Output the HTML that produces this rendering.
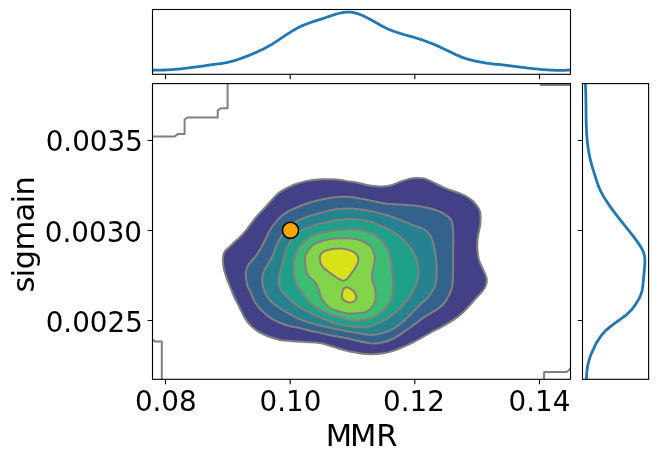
<!DOCTYPE html>
<html><head><meta charset="utf-8"><title>plot</title><style>html,body{margin:0;padding:0;background:#fff;overflow:hidden}svg{display:block}</style></head><body>
<svg width="657" height="461" viewBox="0 0 657 461">
<rect width="657" height="461" fill="#ffffff"/>
<defs><clipPath id="cm"><rect x="152.50" y="83.60" width="418.00" height="295.70"/></clipPath>
<clipPath id="ct"><rect x="152.50" y="9.50" width="418.00" height="64.80"/></clipPath>
<clipPath id="cr"><rect x="582.50" y="83.60" width="66.10" height="295.70"/></clipPath></defs>
<g clip-path="url(#cm)">
<path d="M222.9,260.8 C222.8,259.0 222.9,258.1 223.1,256.9 C223.2,255.7 223.4,254.7 223.8,253.7 C224.2,252.7 224.6,251.7 225.4,250.7 C226.2,249.7 227.5,248.6 228.7,247.5 C229.9,246.4 231.3,245.2 232.6,243.9 C233.9,242.7 235.5,240.9 236.5,240.0 C237.5,239.1 237.4,239.4 238.5,238.4 C239.6,237.4 241.6,235.4 243.0,233.9 C244.4,232.4 245.6,230.9 246.9,229.3 C248.2,227.7 249.5,225.8 250.8,224.1 C252.1,222.4 253.5,220.4 254.7,218.9 C255.9,217.4 256.4,216.8 258.0,215.0 C259.6,213.2 262.2,210.6 264.6,208.0 C267.0,205.4 269.8,202.1 272.2,199.5 C274.6,196.9 276.9,194.4 279.0,192.7 C281.1,191.0 283.2,190.2 285.0,189.2 C286.8,188.2 288.3,187.3 290.0,186.5 C291.7,185.7 292.6,185.0 295.0,184.2 C297.4,183.4 301.1,182.3 304.1,181.6 C307.2,180.9 310.2,180.5 313.3,180.1 C316.4,179.7 319.4,179.4 322.4,179.3 C325.4,179.2 328.4,179.2 331.5,179.3 C334.6,179.4 337.6,179.7 340.7,180.1 C343.8,180.5 347.4,181.2 349.8,181.5 C352.2,181.8 352.6,181.7 355.0,182.2 C357.4,182.7 361.1,183.7 364.1,184.3 C367.2,185.0 370.2,185.7 373.3,186.1 C376.4,186.5 379.4,186.7 382.4,186.5 C385.4,186.3 388.4,186.0 391.5,185.2 C394.6,184.4 397.6,182.6 400.7,181.5 C403.8,180.4 407.4,179.2 409.8,178.6 C412.2,178.0 412.6,178.0 415.0,178.0 C417.4,178.0 421.1,177.7 424.1,178.4 C427.2,179.1 430.2,180.9 433.3,182.3 C436.4,183.7 439.4,185.5 442.4,186.9 C445.4,188.3 448.4,189.4 451.5,190.5 C454.6,191.6 457.6,192.3 460.7,193.7 C463.8,195.0 467.2,196.8 469.8,198.6 C472.4,200.4 474.6,202.7 476.3,204.8 C478.0,206.9 479.3,209.0 480.0,211.3 C480.7,213.6 480.6,216.3 480.6,218.8 C480.6,221.3 480.4,223.9 480.0,226.4 C479.6,228.9 478.8,231.7 478.4,234.0 C478.0,236.3 477.7,237.5 477.5,240.0 C477.3,242.5 477.2,245.8 477.4,249.1 C477.6,252.4 477.9,256.1 478.9,259.7 C479.9,263.2 482.2,267.3 483.5,270.4 C484.8,273.4 486.0,275.7 486.5,278.0 C487.0,280.3 486.8,282.0 486.3,284.0 C485.8,286.0 485.1,287.7 483.5,290.0 C481.9,292.3 478.9,294.9 476.5,297.6 C474.1,300.3 471.4,303.6 468.9,306.3 C466.4,309.0 464.0,311.5 461.3,313.9 C458.6,316.2 455.9,318.2 452.6,320.4 C449.3,322.6 445.3,324.9 441.7,326.9 C438.1,328.9 434.5,330.5 430.9,332.5 C427.3,334.5 422.8,337.1 420.0,338.7 C417.2,340.3 416.7,340.6 413.9,342.0 C411.1,343.4 406.9,345.3 403.3,346.8 C399.8,348.3 396.2,350.0 392.6,351.1 C389.1,352.2 385.6,353.1 382.0,353.6 C378.4,354.1 374.9,354.3 371.3,354.3 C367.8,354.3 364.2,354.1 360.7,353.6 C357.1,353.1 352.8,352.1 350.0,351.5 C347.2,350.9 346.7,350.8 343.9,350.0 C341.1,349.2 336.9,347.9 333.3,346.8 C329.8,345.7 326.2,344.4 322.6,343.6 C319.1,342.9 315.6,342.6 312.0,342.3 C308.4,342.0 304.9,342.0 301.3,341.8 C297.8,341.6 294.2,341.3 290.7,341.0 C287.1,340.7 283.8,340.7 280.0,339.9 C276.2,339.1 271.8,337.7 268.0,336.2 C264.2,334.7 260.2,332.8 257.1,330.8 C254.0,328.8 251.7,326.7 249.5,324.3 C247.3,321.9 245.9,319.8 244.1,316.7 C242.3,313.6 240.4,309.2 238.7,305.8 C237.0,302.4 235.2,299.1 233.8,296.0 C232.4,292.9 231.6,290.6 230.2,287.1 C228.8,283.6 226.7,278.2 225.6,274.9 C224.5,271.6 224.0,269.9 223.6,267.5 C223.2,265.1 223.0,262.6 222.9,260.8Z" fill="#424086"/>
<path d="M245.7,275.0 C245.6,272.2 246.2,270.0 246.9,268.0 C247.6,266.0 248.5,264.7 249.8,262.9 C251.2,261.1 253.3,259.2 255.0,257.0 C256.7,254.8 258.4,252.5 260.1,249.6 C261.8,246.7 263.8,242.6 265.4,239.5 C266.9,236.4 268.0,233.5 269.4,231.1 C270.8,228.7 271.9,227.1 273.5,225.0 C275.1,222.9 276.9,220.5 278.8,218.6 C280.7,216.7 282.4,215.0 285.0,213.3 C287.6,211.6 290.3,210.2 294.1,208.5 C297.9,206.8 304.3,204.4 307.8,203.2 C311.3,202.0 312.4,201.8 315.0,201.1 C317.6,200.4 320.8,199.5 323.7,198.9 C326.6,198.3 329.5,197.8 332.4,197.4 C335.3,197.0 338.1,196.8 341.0,196.7 C343.9,196.6 347.4,196.8 349.7,196.9 C352.0,197.0 351.6,196.8 355.0,197.4 C358.4,198.0 365.1,199.4 370.2,200.4 C375.3,201.4 380.3,202.7 385.4,203.4 C390.5,204.1 395.6,204.2 400.6,204.6 C405.7,205.0 411.6,205.3 415.7,205.7 C419.8,206.1 421.9,206.6 425.0,207.2 C428.1,207.8 431.1,208.5 434.1,209.5 C437.1,210.5 440.7,211.9 443.2,213.3 C445.7,214.7 447.8,216.2 449.3,217.8 C450.8,219.4 451.7,220.9 452.3,223.1 C452.9,225.2 452.9,227.9 453.1,230.7 C453.3,233.5 453.4,236.4 453.4,240.0 C453.4,243.6 453.2,247.0 453.1,252.1 C453.1,257.2 453.2,264.8 453.1,270.4 C453.0,276.0 452.9,281.6 452.3,285.6 C451.7,289.7 450.7,291.7 449.3,294.7 C447.9,297.7 446.1,301.0 444.0,303.5 C441.9,306.0 440.2,307.3 437.0,309.5 C433.8,311.7 428.6,314.3 425.0,316.6 C421.4,318.9 419.0,321.1 415.7,323.5 C412.4,325.9 408.6,328.7 405.1,331.1 C401.6,333.5 398.3,336.1 394.5,338.0 C390.7,339.9 386.4,341.6 382.3,342.5 C378.2,343.4 374.8,343.7 370.2,343.3 C365.6,342.9 359.1,341.1 355.0,340.2 C350.9,339.3 349.8,338.8 345.7,338.0 C341.6,337.2 335.7,336.2 330.6,335.2 C325.6,334.2 320.5,333.1 315.4,331.9 C310.3,330.7 304.3,329.1 300.0,328.1 C295.7,327.1 292.3,326.8 289.5,326.1 C286.7,325.4 285.1,324.8 283.0,324.0 C280.9,323.2 278.6,322.3 276.7,321.4 C274.8,320.5 273.1,319.6 271.3,318.4 C269.5,317.2 267.6,315.9 265.8,314.4 C264.0,312.9 262.2,311.2 260.4,309.2 C258.6,307.2 256.3,304.2 255.0,302.2 C253.7,300.2 253.4,298.8 252.6,297.0 C251.8,295.2 251.1,293.5 250.2,291.5 C249.3,289.5 247.9,287.8 247.2,285.0 C246.4,282.2 245.8,277.8 245.7,275.0Z" fill="#33638d"/>
<path d="M262.6,285.0 C262.1,282.2 262.0,279.5 262.4,276.9 C262.8,274.3 263.6,272.0 264.7,269.6 C265.8,267.2 267.9,264.6 269.2,262.3 C270.5,260.0 271.4,258.7 272.6,256.0 C273.8,253.3 275.1,248.9 276.2,246.3 C277.3,243.7 278.2,242.1 279.2,240.2 C280.2,238.3 280.7,237.2 282.3,234.9 C283.9,232.6 286.3,228.9 289.0,226.5 C291.7,224.1 295.6,222.0 298.7,220.3 C301.8,218.7 304.8,217.6 307.5,216.6 C310.2,215.6 312.3,215.3 315.0,214.5 C317.7,213.7 320.8,212.7 323.7,211.9 C326.6,211.1 329.5,210.4 332.4,209.9 C335.3,209.4 338.1,208.9 341.0,208.7 C343.9,208.4 347.4,208.4 349.7,208.4 C352.0,208.4 351.6,208.5 355.0,208.9 C358.4,209.3 365.1,210.0 370.2,211.0 C375.3,212.0 380.3,213.3 385.4,214.8 C390.5,216.3 395.6,218.2 400.6,220.1 C405.7,222.0 411.6,224.5 415.7,226.2 C419.8,227.8 422.7,228.6 425.0,230.0 C427.3,231.4 428.4,232.8 429.6,234.5 C430.8,236.2 431.3,237.3 432.2,240.0 C433.1,242.7 434.2,246.8 434.9,250.6 C435.6,254.4 436.1,258.2 436.4,262.8 C436.6,267.4 436.7,274.0 436.4,278.0 C436.1,282.0 435.6,284.1 434.5,287.0 C433.4,289.9 431.2,293.3 429.6,295.5 C428.0,297.7 426.3,298.9 425.0,300.2 C423.7,301.4 423.4,301.5 421.8,303.0 C420.2,304.5 418.5,306.3 415.7,309.1 C412.9,311.9 408.6,316.5 405.1,319.7 C401.6,322.9 398.3,325.8 394.5,328.1 C390.7,330.4 386.4,332.3 382.3,333.4 C378.2,334.5 374.8,335.0 370.2,334.9 C365.6,334.8 359.6,333.4 355.0,332.6 C350.4,331.9 347.3,331.3 342.7,330.4 C338.1,329.5 332.6,328.4 327.5,327.3 C322.4,326.2 317.4,325.0 312.3,323.5 C307.2,322.0 301.7,320.2 297.1,318.2 C292.6,316.2 288.6,313.6 285.0,311.5 C281.4,309.4 278.2,307.2 275.7,305.3 C273.1,303.4 271.4,302.0 269.7,300.0 C268.0,298.0 266.8,295.9 265.6,293.4 C264.4,290.9 263.1,287.8 262.6,285.0Z" fill="#26828e"/>
<path d="M278.8,278.7 C278.9,276.4 279.5,274.1 280.2,271.4 C280.9,268.7 282.2,264.9 282.9,262.3 C283.6,259.7 284.0,257.9 284.5,256.0 C285.0,254.1 285.1,252.8 285.7,250.9 C286.3,249.0 287.4,246.6 288.4,244.8 C289.3,243.0 290.2,241.9 291.4,240.2 C292.6,238.5 294.1,236.0 295.5,234.5 C296.9,233.0 298.0,231.9 299.5,231.0 C301.0,230.1 302.4,229.9 304.3,229.2 C306.2,228.5 309.0,227.3 310.8,226.6 C312.6,225.9 312.9,225.6 315.0,224.9 C317.1,224.2 320.8,223.3 323.7,222.6 C326.6,221.9 329.5,221.4 332.4,220.9 C335.3,220.4 338.1,220.0 341.0,219.7 C343.9,219.4 347.4,219.2 349.7,219.1 C352.0,219.0 351.6,218.9 355.0,219.3 C358.4,219.7 366.2,220.7 370.2,221.6 C374.1,222.5 375.8,223.8 378.7,225.0 C381.6,226.2 385.0,227.4 387.8,228.8 C390.6,230.2 393.1,231.9 395.4,233.4 C397.7,234.9 399.8,236.6 401.4,237.9 C403.0,239.2 403.4,239.4 405.0,241.3 C406.6,243.2 409.3,246.0 411.2,249.1 C413.1,252.2 415.2,256.1 416.5,259.7 C417.8,263.2 418.7,266.8 418.8,270.4 C418.9,273.9 418.2,277.7 417.3,281.0 C416.4,284.3 415.0,287.1 413.5,290.0 C412.0,292.9 410.3,295.7 408.4,298.4 C406.5,301.1 404.1,303.6 401.9,306.0 C399.7,308.4 397.9,310.3 395.4,312.5 C392.9,314.7 389.6,317.2 386.7,319.0 C383.8,320.8 380.9,322.1 378.0,323.4 C375.1,324.7 372.0,326.0 369.3,326.6 C366.6,327.2 363.9,327.1 362.0,327.2 C360.1,327.3 359.8,327.1 357.8,327.0 C355.8,326.9 352.7,326.8 350.2,326.5 C347.7,326.2 345.1,325.7 342.6,325.1 C340.1,324.6 337.1,323.8 335.0,323.2 C332.9,322.6 332.0,322.2 329.7,321.3 C327.4,320.4 323.9,319.1 321.0,317.8 C318.1,316.6 315.3,315.2 312.4,313.8 C309.5,312.4 306.0,310.7 303.7,309.5 C301.4,308.3 300.6,307.9 298.7,306.6 C296.8,305.3 294.2,303.4 292.0,301.5 C289.8,299.6 287.4,297.4 285.6,295.5 C283.8,293.6 282.1,291.7 281.0,290.0 C279.9,288.3 279.7,287.0 279.3,285.1 C278.9,283.2 278.7,281.0 278.8,278.7Z" fill="#1fa088"/>
<path d="M293.4,270.4 C293.3,267.0 293.4,263.3 294.1,259.7 C294.8,256.1 296.6,251.5 297.8,249.0 C299.0,246.5 300.3,245.8 301.5,244.5 C302.7,243.2 303.8,242.1 304.8,241.0 C305.9,239.9 306.5,239.1 307.8,238.2 C309.1,237.3 311.0,236.2 312.7,235.4 C314.4,234.7 316.2,234.2 318.0,233.7 C319.8,233.2 321.3,232.8 323.7,232.3 C326.1,231.8 329.5,231.1 332.4,230.7 C335.3,230.3 338.1,229.9 341.0,229.7 C343.9,229.5 347.4,229.4 349.7,229.3 C352.0,229.2 352.4,229.1 355.0,229.4 C357.6,229.7 362.1,230.4 365.0,231.1 C367.9,231.8 370.3,232.6 372.6,233.7 C374.9,234.8 376.9,236.4 378.7,237.9 C380.5,239.4 381.8,240.8 383.2,242.5 C384.6,244.2 386.0,246.0 387.0,247.8 C388.0,249.6 388.7,251.1 389.3,253.1 C389.9,255.1 390.4,257.1 390.8,260.0 C391.2,262.9 391.7,267.1 392.0,270.4 C392.3,273.7 392.5,276.9 392.7,280.0 C392.9,283.1 393.3,286.0 393.2,288.7 C393.1,291.4 392.8,293.8 392.1,296.3 C391.4,298.8 390.3,301.5 388.9,303.9 C387.4,306.2 385.6,308.4 383.4,310.4 C381.2,312.4 378.3,314.4 375.8,315.8 C373.3,317.2 370.8,318.2 368.3,319.0 C365.8,319.8 362.8,320.1 361.0,320.3 C359.2,320.6 359.6,320.5 357.8,320.5 C356.0,320.5 352.3,320.8 350.2,320.5 C348.1,320.2 347.0,319.6 345.0,319.0 C343.0,318.4 340.9,317.8 338.4,317.0 C335.8,316.2 332.6,315.4 329.7,314.3 C326.8,313.2 323.9,311.8 321.0,310.2 C318.1,308.6 315.0,306.6 312.4,304.5 C309.8,302.4 307.4,299.9 305.4,297.5 C303.4,295.1 301.6,292.1 300.2,290.0 C298.8,287.9 297.8,286.9 296.9,285.2 C296.0,283.5 295.4,282.5 294.8,280.0 C294.2,277.5 293.5,273.8 293.4,270.4Z" fill="#3fbc73"/>
<path d="M321.5,241.3 C323.4,240.6 323.1,240.5 325.0,240.1 C326.9,239.7 330.1,239.1 332.6,238.8 C335.1,238.5 337.7,238.4 340.2,238.3 C342.7,238.2 345.3,238.2 347.8,238.3 C350.3,238.4 353.1,238.7 355.4,239.1 C357.7,239.5 359.9,240.2 361.5,240.8 C363.1,241.4 363.6,241.7 365.0,242.5 C366.4,243.3 368.3,244.4 369.6,245.5 C370.9,246.6 371.8,247.7 372.6,249.3 C373.4,251.0 374.1,253.6 374.5,255.4 C374.9,257.2 375.1,258.1 374.9,260.0 C374.7,261.9 373.9,264.7 373.5,267.0 C373.1,269.3 372.4,271.8 372.2,274.0 C372.0,276.2 371.9,277.7 372.3,280.0 C372.7,282.3 374.1,285.2 374.7,287.6 C375.3,290.0 375.7,291.9 375.8,294.1 C375.9,296.3 375.8,298.6 375.3,300.6 C374.8,302.6 373.8,304.4 372.6,306.0 C371.4,307.6 369.6,309.3 368.3,310.4 C367.0,311.4 366.8,311.8 365.0,312.3 C363.2,312.8 360.3,313.1 357.8,313.3 C355.3,313.5 352.3,313.7 350.2,313.6 C348.1,313.6 347.0,313.4 345.0,313.0 C343.0,312.6 340.6,312.0 338.4,311.3 C336.1,310.6 333.7,309.9 331.5,308.7 C329.3,307.5 327.1,305.9 325.4,303.9 C323.6,301.9 322.1,299.2 321.0,296.9 C319.9,294.6 319.6,291.9 318.9,290.0 C318.2,288.1 317.9,286.9 316.9,285.2 C315.9,283.5 314.5,281.7 313.0,280.0 C311.5,278.3 309.3,277.5 308.0,275.0 C306.7,272.5 305.6,268.2 305.2,265.0 C304.8,261.8 305.0,258.5 305.5,256.0 C306.0,253.5 307.0,251.9 308.4,250.0 C309.8,248.1 311.4,245.8 313.6,244.3 C315.8,242.9 319.6,242.0 321.5,241.3Z" fill="#84d44b"/>
<path d="M319.8,258.6 C319.7,256.7 320.2,255.0 321.2,253.7 C322.2,252.4 323.7,251.5 325.6,250.7 C327.5,249.9 330.1,249.3 332.5,249.0 C334.9,248.7 337.7,248.5 340.3,248.6 C342.9,248.7 345.8,249.2 348.1,249.8 C350.4,250.4 352.4,251.1 354.0,252.2 C355.6,253.3 357.2,254.9 357.9,256.6 C358.5,258.3 358.4,260.6 357.9,262.5 C357.4,264.4 356.0,266.4 354.9,268.3 C353.8,270.2 352.3,272.4 351.0,274.2 C349.7,276.0 348.4,278.0 347.1,279.1 C345.8,280.2 344.5,280.8 343.2,280.8 C341.9,280.8 340.9,280.0 339.3,279.1 C337.7,278.2 335.5,276.7 333.4,275.2 C331.3,273.7 328.6,271.9 326.6,270.3 C324.7,268.7 322.8,267.3 321.7,265.4 C320.6,263.4 319.9,260.6 319.8,258.6Z M346.2,287.3 C347.1,287.4 348.9,287.8 350.2,288.5 C351.5,289.2 352.8,290.3 353.8,291.5 C354.8,292.7 356.0,294.5 356.3,295.8 C356.6,297.1 356.4,298.4 355.9,299.4 C355.4,300.4 354.3,301.4 353.2,301.9 C352.1,302.4 350.4,302.7 349.0,302.5 C347.6,302.3 345.8,301.6 344.7,300.9 C343.6,300.2 342.8,299.2 342.3,298.2 C341.9,297.1 341.9,295.9 342.0,294.6 C342.1,293.3 342.4,291.4 342.9,290.3 C343.3,289.2 344.1,288.4 344.7,287.9 C345.2,287.4 345.3,287.2 346.2,287.3Z" fill="#d8e219"/>
<path d="M222.9,260.8 C222.8,259.0 222.9,258.1 223.1,256.9 C223.2,255.7 223.4,254.7 223.8,253.7 C224.2,252.7 224.6,251.7 225.4,250.7 C226.2,249.7 227.5,248.6 228.7,247.5 C229.9,246.4 231.3,245.2 232.6,243.9 C233.9,242.7 235.5,240.9 236.5,240.0 C237.5,239.1 237.4,239.4 238.5,238.4 C239.6,237.4 241.6,235.4 243.0,233.9 C244.4,232.4 245.6,230.9 246.9,229.3 C248.2,227.7 249.5,225.8 250.8,224.1 C252.1,222.4 253.5,220.4 254.7,218.9 C255.9,217.4 256.4,216.8 258.0,215.0 C259.6,213.2 262.2,210.6 264.6,208.0 C267.0,205.4 269.8,202.1 272.2,199.5 C274.6,196.9 276.9,194.4 279.0,192.7 C281.1,191.0 283.2,190.2 285.0,189.2 C286.8,188.2 288.3,187.3 290.0,186.5 C291.7,185.7 292.6,185.0 295.0,184.2 C297.4,183.4 301.1,182.3 304.1,181.6 C307.2,180.9 310.2,180.5 313.3,180.1 C316.4,179.7 319.4,179.4 322.4,179.3 C325.4,179.2 328.4,179.2 331.5,179.3 C334.6,179.4 337.6,179.7 340.7,180.1 C343.8,180.5 347.4,181.2 349.8,181.5 C352.2,181.8 352.6,181.7 355.0,182.2 C357.4,182.7 361.1,183.7 364.1,184.3 C367.2,185.0 370.2,185.7 373.3,186.1 C376.4,186.5 379.4,186.7 382.4,186.5 C385.4,186.3 388.4,186.0 391.5,185.2 C394.6,184.4 397.6,182.6 400.7,181.5 C403.8,180.4 407.4,179.2 409.8,178.6 C412.2,178.0 412.6,178.0 415.0,178.0 C417.4,178.0 421.1,177.7 424.1,178.4 C427.2,179.1 430.2,180.9 433.3,182.3 C436.4,183.7 439.4,185.5 442.4,186.9 C445.4,188.3 448.4,189.4 451.5,190.5 C454.6,191.6 457.6,192.3 460.7,193.7 C463.8,195.0 467.2,196.8 469.8,198.6 C472.4,200.4 474.6,202.7 476.3,204.8 C478.0,206.9 479.3,209.0 480.0,211.3 C480.7,213.6 480.6,216.3 480.6,218.8 C480.6,221.3 480.4,223.9 480.0,226.4 C479.6,228.9 478.8,231.7 478.4,234.0 C478.0,236.3 477.7,237.5 477.5,240.0 C477.3,242.5 477.2,245.8 477.4,249.1 C477.6,252.4 477.9,256.1 478.9,259.7 C479.9,263.2 482.2,267.3 483.5,270.4 C484.8,273.4 486.0,275.7 486.5,278.0 C487.0,280.3 486.8,282.0 486.3,284.0 C485.8,286.0 485.1,287.7 483.5,290.0 C481.9,292.3 478.9,294.9 476.5,297.6 C474.1,300.3 471.4,303.6 468.9,306.3 C466.4,309.0 464.0,311.5 461.3,313.9 C458.6,316.2 455.9,318.2 452.6,320.4 C449.3,322.6 445.3,324.9 441.7,326.9 C438.1,328.9 434.5,330.5 430.9,332.5 C427.3,334.5 422.8,337.1 420.0,338.7 C417.2,340.3 416.7,340.6 413.9,342.0 C411.1,343.4 406.9,345.3 403.3,346.8 C399.8,348.3 396.2,350.0 392.6,351.1 C389.1,352.2 385.6,353.1 382.0,353.6 C378.4,354.1 374.9,354.3 371.3,354.3 C367.8,354.3 364.2,354.1 360.7,353.6 C357.1,353.1 352.8,352.1 350.0,351.5 C347.2,350.9 346.7,350.8 343.9,350.0 C341.1,349.2 336.9,347.9 333.3,346.8 C329.8,345.7 326.2,344.4 322.6,343.6 C319.1,342.9 315.6,342.6 312.0,342.3 C308.4,342.0 304.9,342.0 301.3,341.8 C297.8,341.6 294.2,341.3 290.7,341.0 C287.1,340.7 283.8,340.7 280.0,339.9 C276.2,339.1 271.8,337.7 268.0,336.2 C264.2,334.7 260.2,332.8 257.1,330.8 C254.0,328.8 251.7,326.7 249.5,324.3 C247.3,321.9 245.9,319.8 244.1,316.7 C242.3,313.6 240.4,309.2 238.7,305.8 C237.0,302.4 235.2,299.1 233.8,296.0 C232.4,292.9 231.6,290.6 230.2,287.1 C228.8,283.6 226.7,278.2 225.6,274.9 C224.5,271.6 224.0,269.9 223.6,267.5 C223.2,265.1 223.0,262.6 222.9,260.8Z" fill="none" stroke="#808080" stroke-width="2.00"/>
<path d="M245.7,275.0 C245.6,272.2 246.2,270.0 246.9,268.0 C247.6,266.0 248.5,264.7 249.8,262.9 C251.2,261.1 253.3,259.2 255.0,257.0 C256.7,254.8 258.4,252.5 260.1,249.6 C261.8,246.7 263.8,242.6 265.4,239.5 C266.9,236.4 268.0,233.5 269.4,231.1 C270.8,228.7 271.9,227.1 273.5,225.0 C275.1,222.9 276.9,220.5 278.8,218.6 C280.7,216.7 282.4,215.0 285.0,213.3 C287.6,211.6 290.3,210.2 294.1,208.5 C297.9,206.8 304.3,204.4 307.8,203.2 C311.3,202.0 312.4,201.8 315.0,201.1 C317.6,200.4 320.8,199.5 323.7,198.9 C326.6,198.3 329.5,197.8 332.4,197.4 C335.3,197.0 338.1,196.8 341.0,196.7 C343.9,196.6 347.4,196.8 349.7,196.9 C352.0,197.0 351.6,196.8 355.0,197.4 C358.4,198.0 365.1,199.4 370.2,200.4 C375.3,201.4 380.3,202.7 385.4,203.4 C390.5,204.1 395.6,204.2 400.6,204.6 C405.7,205.0 411.6,205.3 415.7,205.7 C419.8,206.1 421.9,206.6 425.0,207.2 C428.1,207.8 431.1,208.5 434.1,209.5 C437.1,210.5 440.7,211.9 443.2,213.3 C445.7,214.7 447.8,216.2 449.3,217.8 C450.8,219.4 451.7,220.9 452.3,223.1 C452.9,225.2 452.9,227.9 453.1,230.7 C453.3,233.5 453.4,236.4 453.4,240.0 C453.4,243.6 453.2,247.0 453.1,252.1 C453.1,257.2 453.2,264.8 453.1,270.4 C453.0,276.0 452.9,281.6 452.3,285.6 C451.7,289.7 450.7,291.7 449.3,294.7 C447.9,297.7 446.1,301.0 444.0,303.5 C441.9,306.0 440.2,307.3 437.0,309.5 C433.8,311.7 428.6,314.3 425.0,316.6 C421.4,318.9 419.0,321.1 415.7,323.5 C412.4,325.9 408.6,328.7 405.1,331.1 C401.6,333.5 398.3,336.1 394.5,338.0 C390.7,339.9 386.4,341.6 382.3,342.5 C378.2,343.4 374.8,343.7 370.2,343.3 C365.6,342.9 359.1,341.1 355.0,340.2 C350.9,339.3 349.8,338.8 345.7,338.0 C341.6,337.2 335.7,336.2 330.6,335.2 C325.6,334.2 320.5,333.1 315.4,331.9 C310.3,330.7 304.3,329.1 300.0,328.1 C295.7,327.1 292.3,326.8 289.5,326.1 C286.7,325.4 285.1,324.8 283.0,324.0 C280.9,323.2 278.6,322.3 276.7,321.4 C274.8,320.5 273.1,319.6 271.3,318.4 C269.5,317.2 267.6,315.9 265.8,314.4 C264.0,312.9 262.2,311.2 260.4,309.2 C258.6,307.2 256.3,304.2 255.0,302.2 C253.7,300.2 253.4,298.8 252.6,297.0 C251.8,295.2 251.1,293.5 250.2,291.5 C249.3,289.5 247.9,287.8 247.2,285.0 C246.4,282.2 245.8,277.8 245.7,275.0Z" fill="none" stroke="#808080" stroke-width="2.00"/>
<path d="M262.6,285.0 C262.1,282.2 262.0,279.5 262.4,276.9 C262.8,274.3 263.6,272.0 264.7,269.6 C265.8,267.2 267.9,264.6 269.2,262.3 C270.5,260.0 271.4,258.7 272.6,256.0 C273.8,253.3 275.1,248.9 276.2,246.3 C277.3,243.7 278.2,242.1 279.2,240.2 C280.2,238.3 280.7,237.2 282.3,234.9 C283.9,232.6 286.3,228.9 289.0,226.5 C291.7,224.1 295.6,222.0 298.7,220.3 C301.8,218.7 304.8,217.6 307.5,216.6 C310.2,215.6 312.3,215.3 315.0,214.5 C317.7,213.7 320.8,212.7 323.7,211.9 C326.6,211.1 329.5,210.4 332.4,209.9 C335.3,209.4 338.1,208.9 341.0,208.7 C343.9,208.4 347.4,208.4 349.7,208.4 C352.0,208.4 351.6,208.5 355.0,208.9 C358.4,209.3 365.1,210.0 370.2,211.0 C375.3,212.0 380.3,213.3 385.4,214.8 C390.5,216.3 395.6,218.2 400.6,220.1 C405.7,222.0 411.6,224.5 415.7,226.2 C419.8,227.8 422.7,228.6 425.0,230.0 C427.3,231.4 428.4,232.8 429.6,234.5 C430.8,236.2 431.3,237.3 432.2,240.0 C433.1,242.7 434.2,246.8 434.9,250.6 C435.6,254.4 436.1,258.2 436.4,262.8 C436.6,267.4 436.7,274.0 436.4,278.0 C436.1,282.0 435.6,284.1 434.5,287.0 C433.4,289.9 431.2,293.3 429.6,295.5 C428.0,297.7 426.3,298.9 425.0,300.2 C423.7,301.4 423.4,301.5 421.8,303.0 C420.2,304.5 418.5,306.3 415.7,309.1 C412.9,311.9 408.6,316.5 405.1,319.7 C401.6,322.9 398.3,325.8 394.5,328.1 C390.7,330.4 386.4,332.3 382.3,333.4 C378.2,334.5 374.8,335.0 370.2,334.9 C365.6,334.8 359.6,333.4 355.0,332.6 C350.4,331.9 347.3,331.3 342.7,330.4 C338.1,329.5 332.6,328.4 327.5,327.3 C322.4,326.2 317.4,325.0 312.3,323.5 C307.2,322.0 301.7,320.2 297.1,318.2 C292.6,316.2 288.6,313.6 285.0,311.5 C281.4,309.4 278.2,307.2 275.7,305.3 C273.1,303.4 271.4,302.0 269.7,300.0 C268.0,298.0 266.8,295.9 265.6,293.4 C264.4,290.9 263.1,287.8 262.6,285.0Z" fill="none" stroke="#808080" stroke-width="2.00"/>
<path d="M278.8,278.7 C278.9,276.4 279.5,274.1 280.2,271.4 C280.9,268.7 282.2,264.9 282.9,262.3 C283.6,259.7 284.0,257.9 284.5,256.0 C285.0,254.1 285.1,252.8 285.7,250.9 C286.3,249.0 287.4,246.6 288.4,244.8 C289.3,243.0 290.2,241.9 291.4,240.2 C292.6,238.5 294.1,236.0 295.5,234.5 C296.9,233.0 298.0,231.9 299.5,231.0 C301.0,230.1 302.4,229.9 304.3,229.2 C306.2,228.5 309.0,227.3 310.8,226.6 C312.6,225.9 312.9,225.6 315.0,224.9 C317.1,224.2 320.8,223.3 323.7,222.6 C326.6,221.9 329.5,221.4 332.4,220.9 C335.3,220.4 338.1,220.0 341.0,219.7 C343.9,219.4 347.4,219.2 349.7,219.1 C352.0,219.0 351.6,218.9 355.0,219.3 C358.4,219.7 366.2,220.7 370.2,221.6 C374.1,222.5 375.8,223.8 378.7,225.0 C381.6,226.2 385.0,227.4 387.8,228.8 C390.6,230.2 393.1,231.9 395.4,233.4 C397.7,234.9 399.8,236.6 401.4,237.9 C403.0,239.2 403.4,239.4 405.0,241.3 C406.6,243.2 409.3,246.0 411.2,249.1 C413.1,252.2 415.2,256.1 416.5,259.7 C417.8,263.2 418.7,266.8 418.8,270.4 C418.9,273.9 418.2,277.7 417.3,281.0 C416.4,284.3 415.0,287.1 413.5,290.0 C412.0,292.9 410.3,295.7 408.4,298.4 C406.5,301.1 404.1,303.6 401.9,306.0 C399.7,308.4 397.9,310.3 395.4,312.5 C392.9,314.7 389.6,317.2 386.7,319.0 C383.8,320.8 380.9,322.1 378.0,323.4 C375.1,324.7 372.0,326.0 369.3,326.6 C366.6,327.2 363.9,327.1 362.0,327.2 C360.1,327.3 359.8,327.1 357.8,327.0 C355.8,326.9 352.7,326.8 350.2,326.5 C347.7,326.2 345.1,325.7 342.6,325.1 C340.1,324.6 337.1,323.8 335.0,323.2 C332.9,322.6 332.0,322.2 329.7,321.3 C327.4,320.4 323.9,319.1 321.0,317.8 C318.1,316.6 315.3,315.2 312.4,313.8 C309.5,312.4 306.0,310.7 303.7,309.5 C301.4,308.3 300.6,307.9 298.7,306.6 C296.8,305.3 294.2,303.4 292.0,301.5 C289.8,299.6 287.4,297.4 285.6,295.5 C283.8,293.6 282.1,291.7 281.0,290.0 C279.9,288.3 279.7,287.0 279.3,285.1 C278.9,283.2 278.7,281.0 278.8,278.7Z" fill="none" stroke="#808080" stroke-width="2.00"/>
<path d="M293.4,270.4 C293.3,267.0 293.4,263.3 294.1,259.7 C294.8,256.1 296.6,251.5 297.8,249.0 C299.0,246.5 300.3,245.8 301.5,244.5 C302.7,243.2 303.8,242.1 304.8,241.0 C305.9,239.9 306.5,239.1 307.8,238.2 C309.1,237.3 311.0,236.2 312.7,235.4 C314.4,234.7 316.2,234.2 318.0,233.7 C319.8,233.2 321.3,232.8 323.7,232.3 C326.1,231.8 329.5,231.1 332.4,230.7 C335.3,230.3 338.1,229.9 341.0,229.7 C343.9,229.5 347.4,229.4 349.7,229.3 C352.0,229.2 352.4,229.1 355.0,229.4 C357.6,229.7 362.1,230.4 365.0,231.1 C367.9,231.8 370.3,232.6 372.6,233.7 C374.9,234.8 376.9,236.4 378.7,237.9 C380.5,239.4 381.8,240.8 383.2,242.5 C384.6,244.2 386.0,246.0 387.0,247.8 C388.0,249.6 388.7,251.1 389.3,253.1 C389.9,255.1 390.4,257.1 390.8,260.0 C391.2,262.9 391.7,267.1 392.0,270.4 C392.3,273.7 392.5,276.9 392.7,280.0 C392.9,283.1 393.3,286.0 393.2,288.7 C393.1,291.4 392.8,293.8 392.1,296.3 C391.4,298.8 390.3,301.5 388.9,303.9 C387.4,306.2 385.6,308.4 383.4,310.4 C381.2,312.4 378.3,314.4 375.8,315.8 C373.3,317.2 370.8,318.2 368.3,319.0 C365.8,319.8 362.8,320.1 361.0,320.3 C359.2,320.6 359.6,320.5 357.8,320.5 C356.0,320.5 352.3,320.8 350.2,320.5 C348.1,320.2 347.0,319.6 345.0,319.0 C343.0,318.4 340.9,317.8 338.4,317.0 C335.8,316.2 332.6,315.4 329.7,314.3 C326.8,313.2 323.9,311.8 321.0,310.2 C318.1,308.6 315.0,306.6 312.4,304.5 C309.8,302.4 307.4,299.9 305.4,297.5 C303.4,295.1 301.6,292.1 300.2,290.0 C298.8,287.9 297.8,286.9 296.9,285.2 C296.0,283.5 295.4,282.5 294.8,280.0 C294.2,277.5 293.5,273.8 293.4,270.4Z" fill="none" stroke="#808080" stroke-width="2.00"/>
<path d="M321.5,241.3 C323.4,240.6 323.1,240.5 325.0,240.1 C326.9,239.7 330.1,239.1 332.6,238.8 C335.1,238.5 337.7,238.4 340.2,238.3 C342.7,238.2 345.3,238.2 347.8,238.3 C350.3,238.4 353.1,238.7 355.4,239.1 C357.7,239.5 359.9,240.2 361.5,240.8 C363.1,241.4 363.6,241.7 365.0,242.5 C366.4,243.3 368.3,244.4 369.6,245.5 C370.9,246.6 371.8,247.7 372.6,249.3 C373.4,251.0 374.1,253.6 374.5,255.4 C374.9,257.2 375.1,258.1 374.9,260.0 C374.7,261.9 373.9,264.7 373.5,267.0 C373.1,269.3 372.4,271.8 372.2,274.0 C372.0,276.2 371.9,277.7 372.3,280.0 C372.7,282.3 374.1,285.2 374.7,287.6 C375.3,290.0 375.7,291.9 375.8,294.1 C375.9,296.3 375.8,298.6 375.3,300.6 C374.8,302.6 373.8,304.4 372.6,306.0 C371.4,307.6 369.6,309.3 368.3,310.4 C367.0,311.4 366.8,311.8 365.0,312.3 C363.2,312.8 360.3,313.1 357.8,313.3 C355.3,313.5 352.3,313.7 350.2,313.6 C348.1,313.6 347.0,313.4 345.0,313.0 C343.0,312.6 340.6,312.0 338.4,311.3 C336.1,310.6 333.7,309.9 331.5,308.7 C329.3,307.5 327.1,305.9 325.4,303.9 C323.6,301.9 322.1,299.2 321.0,296.9 C319.9,294.6 319.6,291.9 318.9,290.0 C318.2,288.1 317.9,286.9 316.9,285.2 C315.9,283.5 314.5,281.7 313.0,280.0 C311.5,278.3 309.3,277.5 308.0,275.0 C306.7,272.5 305.6,268.2 305.2,265.0 C304.8,261.8 305.0,258.5 305.5,256.0 C306.0,253.5 307.0,251.9 308.4,250.0 C309.8,248.1 311.4,245.8 313.6,244.3 C315.8,242.9 319.6,242.0 321.5,241.3Z" fill="none" stroke="#808080" stroke-width="2.00"/>
<path d="M319.8,258.6 C319.7,256.7 320.2,255.0 321.2,253.7 C322.2,252.4 323.7,251.5 325.6,250.7 C327.5,249.9 330.1,249.3 332.5,249.0 C334.9,248.7 337.7,248.5 340.3,248.6 C342.9,248.7 345.8,249.2 348.1,249.8 C350.4,250.4 352.4,251.1 354.0,252.2 C355.6,253.3 357.2,254.9 357.9,256.6 C358.5,258.3 358.4,260.6 357.9,262.5 C357.4,264.4 356.0,266.4 354.9,268.3 C353.8,270.2 352.3,272.4 351.0,274.2 C349.7,276.0 348.4,278.0 347.1,279.1 C345.8,280.2 344.5,280.8 343.2,280.8 C341.9,280.8 340.9,280.0 339.3,279.1 C337.7,278.2 335.5,276.7 333.4,275.2 C331.3,273.7 328.6,271.9 326.6,270.3 C324.7,268.7 322.8,267.3 321.7,265.4 C320.6,263.4 319.9,260.6 319.8,258.6Z" fill="none" stroke="#808080" stroke-width="2.00"/>
<path d="M346.2,287.3 C347.1,287.4 348.9,287.8 350.2,288.5 C351.5,289.2 352.8,290.3 353.8,291.5 C354.8,292.7 356.0,294.5 356.3,295.8 C356.6,297.1 356.4,298.4 355.9,299.4 C355.4,300.4 354.3,301.4 353.2,301.9 C352.1,302.4 350.4,302.7 349.0,302.5 C347.6,302.3 345.8,301.6 344.7,300.9 C343.6,300.2 342.8,299.2 342.3,298.2 C341.9,297.1 341.9,295.9 342.0,294.6 C342.1,293.3 342.4,291.4 342.9,290.3 C343.3,289.2 344.1,288.4 344.7,287.9 C345.2,287.4 345.3,287.2 346.2,287.3Z" fill="none" stroke="#808080" stroke-width="2.00"/>
<path d="M150.0,136.4 L174.7,136.4 L178.2,133.9 L184.6,133.9 L184.6,119.5 L187.4,117.5 L217.7,117.5 L217.7,110.3 L221.2,108.2 L227.6,108.2 L227.6,80.0" fill="none" stroke="#808080" stroke-width="2.00" stroke-linejoin="round"/>
<path d="M150.0,340.0 L153.3,340.0 L155.0,341.4 L161.8,341.4 L161.8,385.0" fill="none" stroke="#808080" stroke-width="2.00" stroke-linejoin="round"/>
<path d="M544.1,385.0 L544.1,371.9 L566.9,371.9 L569.5,369.4 L571.0,367.5 L575.0,364.0" fill="none" stroke="#808080" stroke-width="2.00" stroke-linejoin="round"/>
<path d="M539.9,84.9 L575.0,84.9" fill="none" stroke="#808080" stroke-width="2.00" stroke-linejoin="round"/>
<circle cx="290.5" cy="230.3" r="8.05" fill="#ffa500" stroke="#000" stroke-width="1.6"/>
</g>
<g clip-path="url(#ct)"><path d="M152.50,70.13 L154.50,70.16 L156.50,70.17 L158.50,70.16 L160.50,70.13 L162.50,70.08 L164.50,70.00 L166.50,69.91 L168.50,69.80 L170.50,69.67 L172.50,69.53 L174.50,69.37 L176.50,69.20 L178.50,69.01 L180.50,68.81 L182.50,68.60 L184.50,68.38 L186.50,68.15 L188.50,67.91 L190.50,67.66 L192.50,67.40 L194.50,67.14 L196.50,66.87 L198.50,66.60 L200.50,66.33 L202.50,66.05 L204.50,65.77 L206.50,65.49 L208.50,65.21 L210.50,64.93 L212.50,64.66 L214.50,64.38 L216.50,64.11 L218.50,63.84 L220.50,63.56 L222.50,63.26 L224.50,62.93 L226.50,62.57 L228.50,62.15 L230.50,61.69 L232.50,61.16 L234.50,60.58 L236.50,59.96 L238.50,59.29 L240.50,58.60 L242.50,57.88 L244.50,57.14 L246.50,56.37 L248.50,55.59 L250.50,54.77 L252.50,53.94 L254.50,53.08 L256.50,52.19 L258.50,51.28 L260.50,50.35 L262.50,49.38 L264.50,48.39 L266.50,47.35 L268.50,46.27 L270.50,45.13 L272.50,43.94 L274.50,42.68 L276.50,41.38 L278.50,40.03 L280.50,38.67 L282.50,37.31 L284.50,35.95 L286.50,34.62 L288.50,33.32 L290.50,32.07 L292.50,30.87 L294.50,29.71 L296.50,28.60 L298.50,27.55 L300.50,26.55 L302.50,25.62 L304.50,24.74 L306.50,23.93 L308.50,23.19 L310.50,22.49 L312.50,21.83 L314.50,21.20 L316.50,20.58 L318.50,19.95 L320.50,19.31 L322.50,18.65 L324.50,17.97 L326.50,17.28 L328.50,16.60 L330.50,15.92 L332.50,15.26 L334.50,14.63 L336.50,14.03 L338.50,13.48 L340.50,13.01 L342.50,12.62 L344.50,12.32 L346.50,12.15 L348.50,12.10 L350.50,12.20 L352.50,12.45 L354.50,12.83 L356.50,13.33 L358.50,13.95 L360.50,14.68 L362.50,15.50 L364.50,16.40 L366.50,17.37 L368.50,18.41 L370.50,19.50 L372.50,20.62 L374.50,21.76 L376.50,22.91 L378.50,24.05 L380.50,25.17 L382.50,26.26 L384.50,27.30 L386.50,28.28 L388.50,29.19 L390.50,30.04 L392.50,30.83 L394.50,31.56 L396.50,32.26 L398.50,32.91 L400.50,33.54 L402.50,34.13 L404.50,34.71 L406.50,35.28 L408.50,35.83 L410.50,36.39 L412.50,36.95 L414.50,37.53 L416.50,38.12 L418.50,38.74 L420.50,39.38 L422.50,40.05 L424.50,40.75 L426.50,41.47 L428.50,42.22 L430.50,43.00 L432.50,43.80 L434.50,44.63 L436.50,45.49 L438.50,46.37 L440.50,47.27 L442.50,48.20 L444.50,49.16 L446.50,50.13 L448.50,51.12 L450.50,52.10 L452.50,53.07 L454.50,54.01 L456.50,54.93 L458.50,55.79 L460.50,56.61 L462.50,57.37 L464.50,58.07 L466.50,58.72 L468.50,59.33 L470.50,59.89 L472.50,60.41 L474.50,60.88 L476.50,61.32 L478.50,61.73 L480.50,62.10 L482.50,62.44 L484.50,62.76 L486.50,63.05 L488.50,63.32 L490.50,63.58 L492.50,63.82 L494.50,64.05 L496.50,64.27 L498.50,64.49 L500.50,64.70 L502.50,64.92 L504.50,65.14 L506.50,65.37 L508.50,65.61 L510.50,65.85 L512.50,66.09 L514.50,66.34 L516.50,66.59 L518.50,66.85 L520.50,67.10 L522.50,67.35 L524.50,67.60 L526.50,67.84 L528.50,68.08 L530.50,68.32 L532.50,68.55 L534.50,68.76 L536.50,68.97 L538.50,69.17 L540.50,69.36 L542.50,69.54 L544.50,69.70 L546.50,69.85 L548.50,69.98 L550.50,70.09 L552.50,70.18 L554.50,70.26 L556.50,70.31 L558.50,70.34 L560.50,70.35 L562.50,70.34 L564.50,70.29 L566.50,70.23 L568.50,70.13 L570.50,70.01" fill="none" stroke="#1f77b4" stroke-width="2.78" stroke-linecap="square" stroke-linejoin="round"/></g>
<g clip-path="url(#cr)"><path d="M585.33,83.60 L585.45,85.60 L585.55,87.60 L585.64,89.60 L585.71,91.60 L585.77,93.60 L585.82,95.60 L585.86,97.60 L585.90,99.60 L585.93,101.60 L585.95,103.60 L585.97,105.60 L585.99,107.60 L586.00,109.60 L586.02,111.60 L586.04,113.60 L586.06,115.60 L586.09,117.60 L586.12,119.60 L586.16,121.60 L586.22,123.60 L586.28,125.60 L586.35,127.60 L586.44,129.60 L586.54,131.60 L586.66,133.60 L586.79,135.60 L586.95,137.60 L587.12,139.60 L587.32,141.60 L587.54,143.60 L587.79,145.60 L588.06,147.60 L588.35,149.60 L588.68,151.60 L589.04,153.60 L589.43,155.60 L589.85,157.60 L590.31,159.60 L590.80,161.60 L591.33,163.60 L591.89,165.60 L592.49,167.60 L593.10,169.60 L593.73,171.60 L594.36,173.60 L595.00,175.60 L595.63,177.60 L596.25,179.60 L596.87,181.60 L597.53,183.60 L598.26,185.60 L599.09,187.60 L599.99,189.60 L600.96,191.60 L602.00,193.60 L603.11,195.60 L604.29,197.60 L605.51,199.60 L606.80,201.60 L608.13,203.60 L609.50,205.60 L610.92,207.60 L612.37,209.60 L613.85,211.60 L615.37,213.60 L616.91,215.60 L618.47,217.60 L620.04,219.60 L621.64,221.60 L623.24,223.60 L624.85,225.60 L626.45,227.60 L628.06,229.60 L629.66,231.60 L631.24,233.60 L632.80,235.60 L634.32,237.60 L635.81,239.60 L637.24,241.60 L638.63,243.60 L639.94,245.60 L641.17,247.60 L642.27,249.60 L643.21,251.60 L643.92,253.60 L644.42,255.60 L644.73,257.60 L644.88,259.60 L644.91,261.60 L644.84,263.60 L644.71,265.60 L644.55,267.60 L644.37,269.60 L644.19,271.60 L644.00,273.60 L643.81,275.60 L643.62,277.60 L643.43,279.60 L643.25,281.60 L643.07,283.60 L642.88,285.60 L642.63,287.60 L642.29,289.60 L641.83,291.60 L641.21,293.60 L640.44,295.60 L639.54,297.60 L638.51,299.60 L637.35,301.60 L636.07,303.60 L634.68,305.60 L633.19,307.60 L631.59,309.60 L629.79,311.60 L627.72,313.60 L625.30,315.60 L622.60,317.60 L619.82,319.60 L617.04,321.60 L614.30,323.60 L611.65,325.60 L609.13,327.60 L606.79,329.60 L604.68,331.60 L602.82,333.60 L601.26,335.60 L599.94,337.60 L598.67,339.60 L597.30,341.60 L596.03,343.60 L595.03,345.60 L594.14,347.60 L593.21,349.60 L592.26,351.60 L591.40,353.60 L590.61,355.60 L589.89,357.60 L589.25,359.60 L588.69,361.60 L588.19,363.60 L587.76,365.60 L587.40,367.60 L587.10,369.60 L586.86,371.60 L586.68,373.60 L586.57,375.60 L586.51,377.60 L586.50,379.60" fill="none" stroke="#1f77b4" stroke-width="2.78" stroke-linecap="square" stroke-linejoin="round"/></g>
<rect x="152.50" y="83.60" width="418.00" height="295.70" fill="none" stroke="#000" stroke-width="1.11" stroke-linejoin="miter"/>
<rect x="152.50" y="9.50" width="418.00" height="64.80" fill="none" stroke="#000" stroke-width="1.11" stroke-linejoin="miter"/>
<rect x="582.50" y="83.60" width="66.10" height="295.70" fill="none" stroke="#000" stroke-width="1.11" stroke-linejoin="miter"/>
<path d="M165.50,379.30 V384.16 M165.50,74.30 V79.16 M290.20,379.30 V384.16 M290.20,74.30 V79.16 M414.80,379.30 V384.16 M414.80,74.30 V79.16 M539.50,379.30 V384.16 M539.50,74.30 V79.16 M152.50,140.50 H147.64 M582.50,140.50 H577.64 M152.50,230.50 H147.64 M582.50,230.50 H577.64 M152.50,320.50 H147.64 M582.50,320.50 H577.64" stroke="#000" stroke-width="1.11" fill="none"/>
<text x="165.80" y="410.80" text-anchor="middle" style="font-family:'DejaVu Sans','Liberation Sans',sans-serif;font-size:27.78px">0.08</text>
<text x="290.50" y="410.80" text-anchor="middle" style="font-family:'DejaVu Sans','Liberation Sans',sans-serif;font-size:27.78px">0.10</text>
<text x="414.00" y="410.80" text-anchor="middle" style="font-family:'DejaVu Sans','Liberation Sans',sans-serif;font-size:27.78px">0.12</text>
<text x="539.50" y="410.80" text-anchor="middle" style="font-family:'DejaVu Sans','Liberation Sans',sans-serif;font-size:27.78px">0.14</text>
<text x="142.80" y="150.70" text-anchor="end" style="font-family:'DejaVu Sans','Liberation Sans',sans-serif;font-size:27.78px">0.0035</text>
<text x="142.00" y="241.70" text-anchor="end" style="font-family:'DejaVu Sans','Liberation Sans',sans-serif;font-size:27.78px">0.0030</text>
<text x="142.80" y="331.70" text-anchor="end" style="font-family:'DejaVu Sans','Liberation Sans',sans-serif;font-size:27.78px">0.0025</text>
<text x="325.65 350.1 376.3" y="445.8" style="font-family:'DejaVu Sans','Liberation Sans',sans-serif;font-size:30.56px">MMR</text>
<text transform="translate(34,234.4) rotate(-90)" x="-58.1" y="0" style="font-family:'DejaVu Sans','Liberation Sans',sans-serif;font-size:30.56px;letter-spacing:-0.62px">sigmain</text>
</svg>
</body></html>
